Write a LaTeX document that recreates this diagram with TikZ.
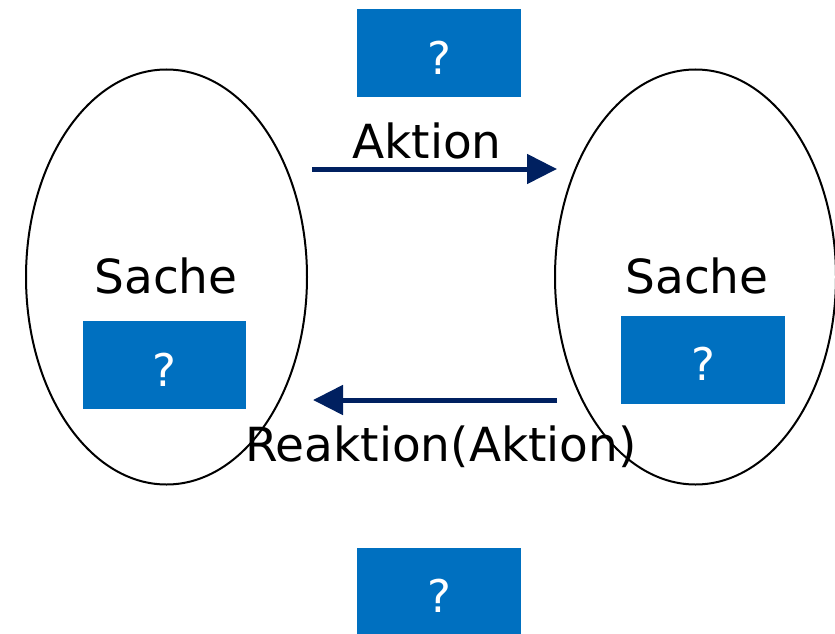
\documentclass[tikz,border=0pt]{standalone}
\usepackage{fontspec}
\setmainfont{DejaVu Sans}
\usetikzlibrary{shapes.geometric,arrows.meta}
\definecolor{boxblue}{HTML}{0070C0}
\definecolor{navy}{HTML}{002060}
\tikzset{
  qbox/.style={fill=boxblue, draw=none, minimum width=164pt, minimum height=88pt, inner sep=0pt},
  qmark/.style={text=white, font=\fontsize{45}{54}\selectfont, inner sep=0pt},
  lbl/.style={font=\fontsize{47}{56}\selectfont, inner sep=0pt, anchor=base},
  thing/.style={ellipse, draw=black, line width=2pt, minimum width=281pt, minimum height=415pt, inner sep=0pt},
  flow/.style={draw=navy, line width=5pt, -{Triangle[length=30pt,width=29pt]}, shorten >=0pt}
}
\begin{document}
\begin{tikzpicture}[x=1pt,y=-1pt]
\useasboundingbox (0,0) rectangle (835,634);
% ellipses
\node[thing] (left) at (166.5,277) {};
\node[thing] (right) at (695.5,277) {};
% boxes
\node[qbox] (top) at (439,53) {};
\node[qbox, minimum width=163pt] (lbox) at (164.5,365) {};
\node[qbox] (rbox) at (703,359.5) {};
\node[qbox, minimum height=86pt] (bottom) at (439,591) {};
\node[qmark] (q1) at ([yshift=-4.5pt]top.center) {?};
\node[qmark] (q2) at ([yshift=-4.5pt]lbox.center) {?};
\node[qmark] (q3) at ([yshift=-4.5pt]rbox.center) {?};
\node[qmark] (q4) at ([yshift=-4.5pt]bottom.center) {?};
% labels
\node[lbl] (sl) at (166,293) {Sache};
\node[lbl] (sr) at (697,293) {Sache};
\node[lbl] (akt) at (427,158) {Aktion};
\node[lbl] (reakt) at (441,461) {Reaktion(Aktion)};
% arrows
\coordinate (a1) at (312,169);
\coordinate (a2) at (557,169);
\coordinate (b1) at (557,400);
\coordinate (b2) at (313,400);
\draw[flow] (a1) -- (a2);
\draw[flow] (b1) -- (b2);
\end{tikzpicture}
\end{document}
